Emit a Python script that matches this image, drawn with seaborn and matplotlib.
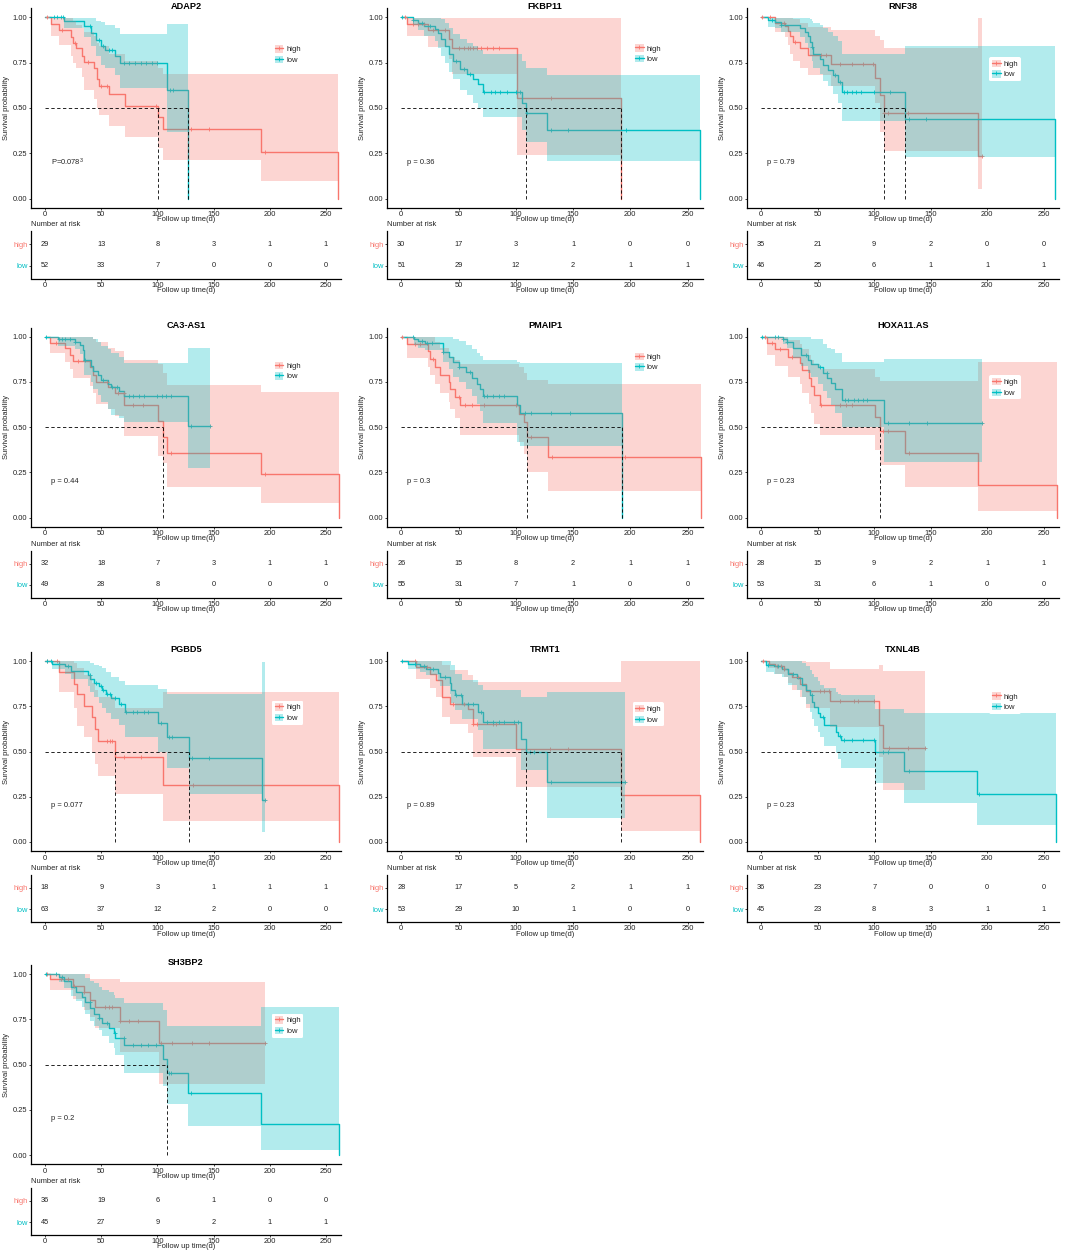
import numpy as np
import matplotlib
matplotlib.use("Agg")
import matplotlib.pyplot as plt
import seaborn as sns
from matplotlib.patches import Patch
from matplotlib.lines import Line2D

# each curve: (time, survival, lower CI, upper CI), step function
adap2_high = [(0, 1, 1, 1), (5, 0.965, 0.90, 1.0), (12, 0.93, 0.85, 1.0), (23, 0.895, 0.79, 1.0),
              (25, 0.86, 0.75, 0.98), (28, 0.83, 0.72, 0.96), (33, 0.79, 0.67, 0.94), (35, 0.755, 0.60, 0.92),
              (44, 0.72, 0.55, 0.90), (46, 0.66, 0.50, 0.86), (48, 0.62, 0.46, 0.84), (57, 0.575, 0.40, 0.80),
              (71, 0.51, 0.34, 0.76), (101, 0.45, 0.28, 0.72), (105, 0.385, 0.215, 0.69),
              (192, 0.255, 0.095, 0.69), (261, 0, 0, 0)]
adap2_low = [(0, 1, 1, 1), (17, 0.98, 0.94, 1.0), (35, 0.955, 0.89, 1.0), (41, 0.915, 0.84, 1.0),
             (45, 0.875, 0.79, 0.98), (50, 0.84, 0.74, 0.975), (53, 0.82, 0.72, 0.96), (62, 0.79, 0.68, 0.94),
             (67, 0.75, 0.61, 0.91), (109, 0.60, 0.37, 0.965), (127, 0, 0, 0)]
adap2_high_cens = [2, 15, 27, 38, 50, 55, 99, 130, 146, 196]
adap2_low_cens = [8, 11, 14, 16, 40, 48, 52, 57, 60, 70, 75, 80, 85, 90, 95, 100, 111, 114]
adap2_risk_high = [29, 13, 8, 3, 1, 1]
adap2_risk_low = [52, 33, 7, 0, 0, 0]

fkbp11_high = [(0, 1, 1, 1), (5, 0.965, 0.90, 1.0), (23, 0.93, 0.835, 1.0), (42, 0.88, 0.77, 1.0),
               (44, 0.83, 0.69, 1.0), (101, 0.555, 0.24, 1.0), (192, 0, 0, 0)]
fkbp11_low = [(0, 1, 1, 1), (10, 0.985, 0.96, 1.0), (15, 0.97, 0.93, 1.0), (20, 0.955, 0.90, 1.0),
              (29, 0.935, 0.87, 1.0), (32, 0.915, 0.83, 1.0), (35, 0.88, 0.79, 0.99), (38, 0.84, 0.75, 0.97),
              (42, 0.80, 0.70, 0.94), (45, 0.76, 0.66, 0.91), (51, 0.715, 0.60, 0.88), (57, 0.69, 0.57, 0.86),
              (62.5, 0.66, 0.53, 0.84), (67, 0.63, 0.50, 0.82), (71, 0.59, 0.45, 0.80), (105, 0.53, 0.38, 0.76),
              (109, 0.475, 0.31, 0.72), (127, 0.38, 0.205, 0.685), (261, 0, 0, 0)]
fkbp11_high_cens = [3, 10, 15, 20, 28, 38, 50, 55, 58, 60, 63, 66, 70, 75, 80, 85, 131]
fkbp11_low_cens = [1, 10, 18, 25, 48, 55, 60, 72, 78, 82, 86, 92, 100, 104, 110, 131, 146, 196]
fkbp11_risk_high = [30, 17, 3, 1, 0, 0]
fkbp11_risk_low = [51, 29, 12, 2, 1, 1]

rnf38_high = [(0, 1, 1, 1), (12.5, 0.97, 0.92, 1.0), (21, 0.955, 0.89, 1.0), (24, 0.925, 0.85, 1.0),
              (25.6, 0.90, 0.80, 1.0), (28.5, 0.865, 0.76, 0.99), (34, 0.83, 0.72, 0.97), (41.7, 0.795, 0.68, 0.95),
              (62, 0.745, 0.62, 0.93), (100.5, 0.665, 0.53, 0.90), (105, 0.57, 0.37, 0.875),
              (108.7, 0.47, 0.265, 0.83), (192, 0.235, 0.05, 1.0), (195, 0.235, 0.05, 1.0)]
rnf38_low = [(0, 1, 1, 1), (6, 0.985, 0.95, 1.0), (12.5, 0.975, 0.94, 1.0), (17.5, 0.96, 0.92, 1.0),
             (34, 0.94, 0.89, 1.0), (38.8, 0.92, 0.86, 1.0), (41.7, 0.90, 0.83, 1.0), (43, 0.865, 0.79, 0.99),
             (44.6, 0.835, 0.76, 0.98), (46, 0.80, 0.72, 0.97), (52, 0.77, 0.69, 0.96), (54.8, 0.74, 0.65, 0.94),
             (59, 0.71, 0.62, 0.92), (63.5, 0.68, 0.58, 0.90), (68, 0.645, 0.53, 0.87), (71.7, 0.59, 0.43, 0.80),
             (127, 0.44, 0.23, 0.84), (260, 0, 0, 0)]
rnf38_high_cens = [1, 8, 20, 30, 53, 57, 70, 80, 90, 99, 109, 112, 130, 195]
rnf38_low_cens = [10, 18, 45, 65, 70, 73, 76, 80, 84, 88, 100, 114, 131, 146]
rnf38_risk_high = [35, 21, 9, 2, 0, 0]
rnf38_risk_low = [46, 25, 6, 1, 1, 1]

ca3_high = [(0, 1, 1, 1), (4.4, 0.965, 0.91, 1.0), (17.6, 0.935, 0.86, 1.0), (22, 0.90, 0.82, 1.0),
            (25, 0.865, 0.77, 1.0), (39.7, 0.83, 0.73, 1.0), (42.6, 0.79, 0.69, 0.99), (45.6, 0.75, 0.63, 0.97),
            (56, 0.72, 0.60, 0.94), (62, 0.69, 0.56, 0.92), (70.6, 0.625, 0.45, 0.87), (100.6, 0.535, 0.34, 0.85),
            (105.3, 0.445, 0.30, 0.80), (108.8, 0.36, 0.17, 0.735), (192.6, 0.24, 0.08, 0.695), (261.8, 0, 0, 0)]
ca3_low = [(0, 1, 1, 1), (11.8, 0.985, 0.95, 1.0), (26.5, 0.97, 0.93, 1.0), (31, 0.955, 0.905, 1.0),
           (33.8, 0.925, 0.86, 1.0), (35, 0.87, 0.79, 1.0), (41, 0.84, 0.75, 1.0), (42.6, 0.81, 0.71, 0.99),
           (47, 0.79, 0.68, 0.97), (50, 0.76, 0.64, 0.95), (56, 0.74, 0.60, 0.93), (59, 0.72, 0.57, 0.91),
           (66, 0.70, 0.55, 0.89), (70.6, 0.675, 0.53, 0.855), (127, 0.505, 0.275, 0.935), (147, 0.505, 0.275, 0.935)]
ca3_high_cens = [10, 29, 55, 65, 70, 78, 87, 112, 196]
ca3_low_cens = [1, 12, 15, 18, 22, 27, 36, 52, 60, 64, 75, 78, 84, 88, 100, 104, 108, 112, 130, 147]
ca3_risk_high = [32, 18, 7, 3, 1, 1]
ca3_risk_low = [49, 28, 8, 0, 0, 0]

pmaip1_high = [(0, 1, 1, 1), (5, 0.96, 0.885, 1.0), (23, 0.92, 0.83, 1.0), (25.3, 0.875, 0.79, 1.0),
               (29, 0.835, 0.74, 0.97), (34, 0.79, 0.69, 0.94), (41.3, 0.75, 0.64, 0.91), (42.7, 0.71, 0.60, 0.89),
               (47, 0.665, 0.55, 0.87), (51.5, 0.62, 0.455, 0.85), (103, 0.575, 0.42, 0.83), (107, 0.53, 0.35, 0.80),
               (109.6, 0.445, 0.25, 0.76), (128, 0.335, 0.15, 0.738), (262, 0, 0, 0)]
pmaip1_low = [(0, 1, 1, 1), (10.8, 0.985, 0.955, 1.0), (15, 0.975, 0.94, 1.0), (21, 0.965, 0.925, 1.0),
              (36, 0.915, 0.86, 1.0), (41.3, 0.89, 0.82, 1.0), (45, 0.86, 0.78, 0.99), (50, 0.835, 0.75, 0.975),
              (56.7, 0.805, 0.71, 0.955), (61.6, 0.77, 0.67, 0.93), (66, 0.74, 0.63, 0.91), (69, 0.71, 0.59, 0.895),
              (71, 0.675, 0.525, 0.87), (101, 0.625, 0.42, 0.86), (103.5, 0.58, 0.395, 0.855), (193, 0, 0, 0)]
pmaip1_high_cens = [1, 12, 16, 28, 50, 56, 62, 72, 100, 113, 132, 195]
pmaip1_low_cens = [10, 18, 22, 27, 36, 50, 60, 72, 75, 80, 85, 90, 108, 113, 131, 147]
pmaip1_risk_high = [26, 15, 8, 2, 1, 1]
pmaip1_risk_low = [55, 31, 7, 1, 0, 0]

hoxa11_high = [(0, 1, 1, 1), (5.2, 0.965, 0.90, 1.0), (12.4, 0.93, 0.84, 1.0), (24, 0.89, 0.78, 0.98),
               (34, 0.855, 0.74, 0.96), (36, 0.815, 0.69, 0.93), (42.2, 0.77, 0.63, 0.90), (44.2, 0.73, 0.58, 0.87),
               (47, 0.68, 0.52, 0.85), (52.3, 0.625, 0.455, 0.82), (101, 0.555, 0.375, 0.78),
               (105.5, 0.48, 0.29, 0.755), (127.5, 0.355, 0.17, 0.755), (192, 0.18, 0.035, 0.86), (261.6, 0, 0, 0)]
hoxa11_low = [(0, 1, 1, 1), (19, 0.985, 0.96, 1.0), (22.5, 0.97, 0.94, 1.0), (28.3, 0.935, 0.88, 1.0),
              (35, 0.90, 0.84, 1.0), (41.3, 0.87, 0.80, 1.0), (44, 0.85, 0.78, 0.99), (50, 0.83, 0.74, 0.99),
              (55, 0.80, 0.70, 0.96), (58.7, 0.77, 0.66, 0.94), (61.6, 0.745, 0.62, 0.93), (65, 0.71, 0.58, 0.91),
              (71.7, 0.65, 0.50, 0.86), (108.7, 0.525, 0.31, 0.875), (195, 0.525, 0.31, 0.875)]
hoxa11_high_cens = [3, 10, 17, 27, 53, 70, 75, 80, 108, 112, 131]
hoxa11_low_cens = [1, 12, 15, 19, 23, 40, 52, 58, 74, 77, 82, 86, 90, 94, 112, 131, 147, 195]
hoxa11_risk_high = [28, 15, 9, 2, 1, 1]
hoxa11_risk_low = [53, 31, 6, 1, 0, 0]

pgbd5_high = [(0, 1, 1, 1), (12.3, 0.94, 0.83, 1.0), (25.7, 0.875, 0.74, 0.99), (28.7, 0.815, 0.64, 0.96),
              (34.5, 0.75, 0.58, 0.92), (41.5, 0.69, 0.50, 0.88), (44.4, 0.625, 0.43, 0.84),
              (46.8, 0.56, 0.365, 0.80), (62, 0.47, 0.265, 0.74), (105.3, 0.315, 0.115, 0.83), (261.7, 0, 0, 0)]
pgbd5_low = [(0, 1, 1, 1), (5.8, 0.985, 0.955, 1.0), (17.5, 0.97, 0.93, 1.0), (23.4, 0.945, 0.90, 1.0),
             (38, 0.925, 0.86, 1.0), (40.4, 0.90, 0.83, 0.99), (43.9, 0.88, 0.80, 0.98), (48.2, 0.86, 0.77, 0.97),
             (51, 0.84, 0.74, 0.96), (54, 0.815, 0.71, 0.94), (58.5, 0.795, 0.68, 0.91), (65.8, 0.765, 0.645, 0.89),
             (70.8, 0.72, 0.58, 0.87), (100.9, 0.655, 0.50, 0.845), (108.2, 0.58, 0.41, 0.82),
             (127.8, 0.465, 0.265, 0.82), (193, 0.23, 0.055, 0.995), (196, 0.23, 0.055, 0.995)]
pgbd5_high_cens = [2, 11, 55, 58, 60, 70, 85, 132]
pgbd5_low_cens = [2, 5, 12, 20, 40, 45, 50, 52, 55, 58, 62, 68, 72, 78, 82, 88, 92, 103, 110, 113, 131, 146, 196]
pgbd5_risk_high = [18, 9, 3, 1, 1, 1]
pgbd5_risk_low = [63, 37, 12, 2, 0, 0]

trmt1_high = [(0, 1, 1, 1), (13, 0.965, 0.90, 1.0), (24.8, 0.93, 0.85, 1.0), (30.6, 0.895, 0.80, 1.0),
              (35.8, 0.80, 0.69, 0.98), (42.2, 0.765, 0.65, 0.95), (58.3, 0.735, 0.60, 0.92),
              (62.6, 0.65, 0.47, 0.885), (100.5, 0.515, 0.305, 0.885), (192.3, 0.26, 0.06, 1.0), (260.8, 0, 0, 0)]
trmt1_low = [(0, 1, 1, 1), (5.8, 0.985, 0.955, 1.0), (16, 0.97, 0.94, 1.0), (21.8, 0.955, 0.92, 1.0),
             (32, 0.935, 0.89, 1.0), (33.5, 0.91, 0.86, 1.0), (42.2, 0.88, 0.82, 1.0), (43.7, 0.84, 0.77, 0.98),
             (47, 0.81, 0.73, 0.93), (53, 0.765, 0.68, 0.895), (67, 0.72, 0.62, 0.87), (71.4, 0.665, 0.515, 0.84),
             (104.9, 0.57, 0.40, 0.80), (109.3, 0.50, 0.40, 0.80), (127.6, 0.33, 0.13, 0.83), (195, 0.33, 0.13, 0.83)]
trmt1_high_cens = [12, 22, 45, 55, 63, 66, 80, 83, 130, 146]
trmt1_low_cens = [1, 12, 20, 28, 38, 48, 52, 58, 63, 70, 75, 80, 85, 90, 98, 102, 112, 116, 131, 195]
trmt1_risk_high = [28, 17, 5, 2, 1, 1]
trmt1_risk_low = [53, 29, 10, 1, 0, 0]

txnl4b_high = [(0, 1, 1, 1), (6.7, 0.985, 0.96, 1.0), (12.5, 0.97, 0.93, 1.0), (19.8, 0.955, 0.91, 1.0),
               (24, 0.935, 0.88, 1.0), (27, 0.91, 0.84, 1.0), (34.3, 0.875, 0.80, 1.0), (40, 0.835, 0.74, 0.995),
               (60.5, 0.78, 0.635, 0.955), (104, 0.645, 0.47, 0.98), (107.8, 0.52, 0.29, 0.945),
               (144.8, 0.52, 0.29, 0.945)]
txnl4b_low = [(0, 1, 1, 1), (4.4, 0.98, 0.94, 1.0), (11, 0.97, 0.93, 1.0), (18.3, 0.955, 0.91, 1.0),
              (24, 0.93, 0.87, 1.0), (31.4, 0.905, 0.84, 1.0), (35.8, 0.87, 0.80, 0.99), (40, 0.84, 0.76, 0.97),
              (43, 0.81, 0.72, 0.95), (45.3, 0.775, 0.68, 0.93), (46.5, 0.745, 0.64, 0.91), (50.3, 0.715, 0.61, 0.89),
              (51.7, 0.69, 0.58, 0.87), (56, 0.645, 0.53, 0.85), (66.3, 0.61, 0.49, 0.83), (67.7, 0.585, 0.46, 0.82),
              (70.6, 0.565, 0.41, 0.81), (101, 0.495, 0.325, 0.736), (126.7, 0.395, 0.215, 0.71),
              (191.3, 0.265, 0.095, 0.71), (260.5, 0, 0, 0)]
txnl4b_high_cens = [2, 14, 18, 20, 33, 52, 56, 60, 70, 82, 86, 100, 113, 130, 145]
txnl4b_low_cens = [6, 15, 28, 45, 55, 70, 73, 80, 90, 100, 108, 112, 131, 193]
txnl4b_risk_high = [36, 23, 7, 0, 0, 0]
txnl4b_risk_low = [45, 23, 8, 3, 1, 1]

sh3bp2_high = [(0, 1, 1, 1), (4.7, 0.97, 0.91, 1.0), (25.2, 0.935, 0.86, 1.0), (34.6, 0.90, 0.80, 1.0),
               (40.4, 0.855, 0.76, 0.975), (44.8, 0.815, 0.70, 0.975), (66.8, 0.74, 0.57, 0.955),
               (101.4, 0.62, 0.395, 0.955), (195.8, 0.62, 0.395, 0.955)]
sh3bp2_low = [(0, 1, 1, 1), (12.6, 0.985, 0.955, 1.0), (17, 0.96, 0.92, 1.0), (22.9, 0.93, 0.88, 1.0),
              (27.3, 0.90, 0.85, 1.0), (33.1, 0.875, 0.82, 1.0), (35.2, 0.845, 0.78, 0.98), (40.4, 0.81, 0.74, 0.96),
              (43.4, 0.78, 0.71, 0.95), (47.8, 0.755, 0.69, 0.93), (50.7, 0.73, 0.66, 0.91), (56.6, 0.70, 0.62, 0.90),
              (61, 0.675, 0.59, 0.885), (62.4, 0.645, 0.55, 0.87), (70.3, 0.605, 0.455, 0.84),
              (104.9, 0.53, 0.38, 0.80), (108.7, 0.455, 0.28, 0.71), (127.5, 0.34, 0.16, 0.71),
              (192, 0.17, 0.03, 0.815), (261.7, 0, 0, 0)]
sh3bp2_high_cens = [2, 14, 20, 26, 35, 53, 57, 60, 67, 75, 83, 103, 113, 131, 146, 196]
sh3bp2_low_cens = [1, 10, 15, 40, 48, 55, 62, 70, 78, 85, 92, 99, 110, 112, 130]
sh3bp2_risk_high = [36, 19, 6, 1, 0, 0]
sh3bp2_risk_low = [45, 27, 9, 2, 1, 1]

titles = ['ADAP2', 'FKBP11', 'RNF38', 'CA3-AS1', 'PMAIP1', 'HOXA11.AS', 'PGBD5', 'TRMT1', 'TXNL4B', 'SH3BP2']
pvals = ['P=0.078$^{3}$', 'p = 0.36', 'p = 0.79', 'p = 0.44', 'p = 0.3', 'p = 0.23',
         'p = 0.077', 'p = 0.89', 'p = 0.23', 'p = 0.2']
risk_times = [0, 50, 100, 150, 200, 250]

panels = [
    (adap2_high, adap2_low, adap2_high_cens, adap2_low_cens, adap2_risk_high, adap2_risk_low),
    (fkbp11_high, fkbp11_low, fkbp11_high_cens, fkbp11_low_cens, fkbp11_risk_high, fkbp11_risk_low),
    (rnf38_high, rnf38_low, rnf38_high_cens, rnf38_low_cens, rnf38_risk_high, rnf38_risk_low),
    (ca3_high, ca3_low, ca3_high_cens, ca3_low_cens, ca3_risk_high, ca3_risk_low),
    (pmaip1_high, pmaip1_low, pmaip1_high_cens, pmaip1_low_cens, pmaip1_risk_high, pmaip1_risk_low),
    (hoxa11_high, hoxa11_low, hoxa11_high_cens, hoxa11_low_cens, hoxa11_risk_high, hoxa11_risk_low),
    (pgbd5_high, pgbd5_low, pgbd5_high_cens, pgbd5_low_cens, pgbd5_risk_high, pgbd5_risk_low),
    (trmt1_high, trmt1_low, trmt1_high_cens, trmt1_low_cens, trmt1_risk_high, trmt1_risk_low),
    (txnl4b_high, txnl4b_low, txnl4b_high_cens, txnl4b_low_cens, txnl4b_risk_high, txnl4b_risk_low),
    (sh3bp2_high, sh3bp2_low, sh3bp2_high_cens, sh3bp2_low_cens, sh3bp2_risk_high, sh3bp2_risk_low),
]

# legend vertical centre per panel (survival units)
legend_y = [0.795, 0.80, 0.715, 0.81, 0.86, 0.72, 0.715, 0.705, 0.775, 0.715]

#style
sns.set_theme(style="white")
plt.rcParams['font.family'] = ['Liberation Sans', 'DejaVu Sans']
plt.rcParams['mathtext.fontset'] = 'custom'
plt.rcParams['mathtext.rm'] = 'Liberation Sans'

HIGH = '#F8766D'
LOW = '#00BFC4'
FS = 5.4
TXT = '#222222'

W, H = 1065, 1252
fig = plt.figure(figsize=(W / 100, H / 100), dpi=100)
fig.patch.set_facecolor('white')

col_left = [31, 387, 747]
col_width = [310, 316, 312]
row_zero = [198.5, 517.7, 842, 1155]
unit = 181
XLIM = (-12.5, 263.5)


def px_axes(left, top, width, height):
    return fig.add_axes([left / W, 1 - (top + height) / H, width / W, height / H])


def step_value(curve, t):
    ts = [p[0] for p in curve]
    i = np.searchsorted(ts, t, side='right') - 1
    return curve[max(i, 0)][1]


def median_time(curve):
    for t, s, lo, hi in curve:
        if s <= 0.5:
            return t
    return None


def style_axis(ax, h_px, w_px):
    for sp in ['top', 'right']:
        ax.spines[sp].set_visible(False)
    for sp in ['left', 'bottom']:
        ax.spines[sp].set_linewidth(0.9)
        ax.spines[sp].set_color('black')
    ax.set_xlim(*XLIM)
    ax.set_xticks(risk_times)
    ax.tick_params(axis='both', labelsize=FS, length=1.5, width=0.6, pad=1,
                   colors=TXT, left=True, bottom=True)
    ax.set_xlabel('Follow up time(d)', fontsize=FS, color=TXT)
    ax.xaxis.set_label_coords(0.5, -8.5 / h_px)
    ax.grid(False)


for i, (high, low, hcens, lcens, rhigh, rlow) in enumerate(panels):
    r, c = divmod(i, 3)
    left, width, y0 = col_left[c], col_width[c], row_zero[r]
    km_h = 1.1 * unit
    ax = px_axes(left, y0 - 1.05 * unit, width, km_h)

    # survival step lines + censor marks
    for curve, cens, color in [(high, hcens, HIGH), (low, lcens, LOW)]:
        t = [p[0] for p in curve]
        s = [p[1] for p in curve]
        sns.lineplot(x=t, y=s, ax=ax, color=color, linewidth=1.0, drawstyle='steps-post',
                     estimator=None, sort=False, legend=False, zorder=2)
        sns.scatterplot(x=cens, y=[step_value(curve, x) for x in cens], ax=ax, marker='+',
                        color=color, s=10, linewidth=0.6, legend=False, zorder=2.5)

    # confidence bands on top (as in survminer)
    for k, (curve, color) in enumerate([(high, HIGH), (low, LOW)]):
        t = [p[0] for p in curve]
        lo = [p[2] for p in curve]
        hi = [p[3] for p in curve]
        ax.fill_between(t, lo, hi, step='post', color=color, alpha=0.3, linewidth=0, zorder=3 + k * 0.1)

    # median survival lines
    meds = [m for m in (median_time(high), median_time(low)) if m is not None]
    if meds:
        ax.plot([0, max(meds)], [0.5, 0.5], ls=(0, (4, 3)), color='black', lw=0.6, zorder=5)
        for m in meds:
            ax.plot([m, m], [0, 0.5], ls=(0, (4, 3)), color='black', lw=0.6, zorder=5)

    style_axis(ax, km_h, width)
    ax.set_ylim(-0.05, 1.05)
    ax.set_yticks([0, 0.25, 0.5, 0.75, 1.0])
    ax.set_yticklabels(['0.00', '0.25', '0.50', '0.75', '1.00'])
    ax.set_ylabel('Survival probability', fontsize=FS, color=TXT)
    ax.yaxis.set_label_coords(-21.5 / width, 0.5)

    ax.text(0.5, 1 + 2 / km_h, titles[i], transform=ax.transAxes, ha='center', va='center',
            fontsize=6.6, fontweight='bold', color='black')
    ax.text(5, 0.2, pvals[i], ha='left', va='center', fontsize=FS, color=TXT)

    handles = [(Patch(facecolor=HIGH, alpha=0.3, linewidth=0),
                Line2D([], [], color=HIGH, lw=1.0, marker='+', ms=3, mew=0.6)),
               (Patch(facecolor=LOW, alpha=0.3, linewidth=0),
                Line2D([], [], color=LOW, lw=1.0, marker='+', ms=3, mew=0.6))]
    leg = ax.legend(handles, ['high', 'low'], loc='center left',
                    bbox_to_anchor=(0.777, (legend_y[i] + 0.05) / 1.1), fontsize=5.5,
                    frameon=True, facecolor='white', edgecolor='none', framealpha=1,
                    handlelength=1.1, handleheight=1.1, handletextpad=0.4, borderpad=0.35,
                    labelspacing=0.3, borderaxespad=0)
    leg.set_zorder(10)

    # risk table
    tab_h = 47
    axt = px_axes(left, y0 + 33, width, tab_h)
    for k, x in enumerate(risk_times):
        axt.text(x, 2, str(rhigh[k]), ha='center', va='center', fontsize=5.3, color=TXT)
        axt.text(x, 1, str(rlow[k]), ha='center', va='center', fontsize=5.3, color=TXT)
    style_axis(axt, tab_h, width)
    axt.set_ylim(0.4, 2.6)
    axt.set_yticks([1, 2])
    axt.set_yticklabels(['low', 'high'])
    for lab, col in zip(axt.get_yticklabels(), [LOW, HIGH]):
        lab.set_color(col)
    axt.text(0, 1 + 3 / tab_h, 'Number at risk', transform=axt.transAxes, ha='left', va='bottom',
             fontsize=FS, color=TXT)

fig.savefig('out.png', dpi=100, facecolor='white')
